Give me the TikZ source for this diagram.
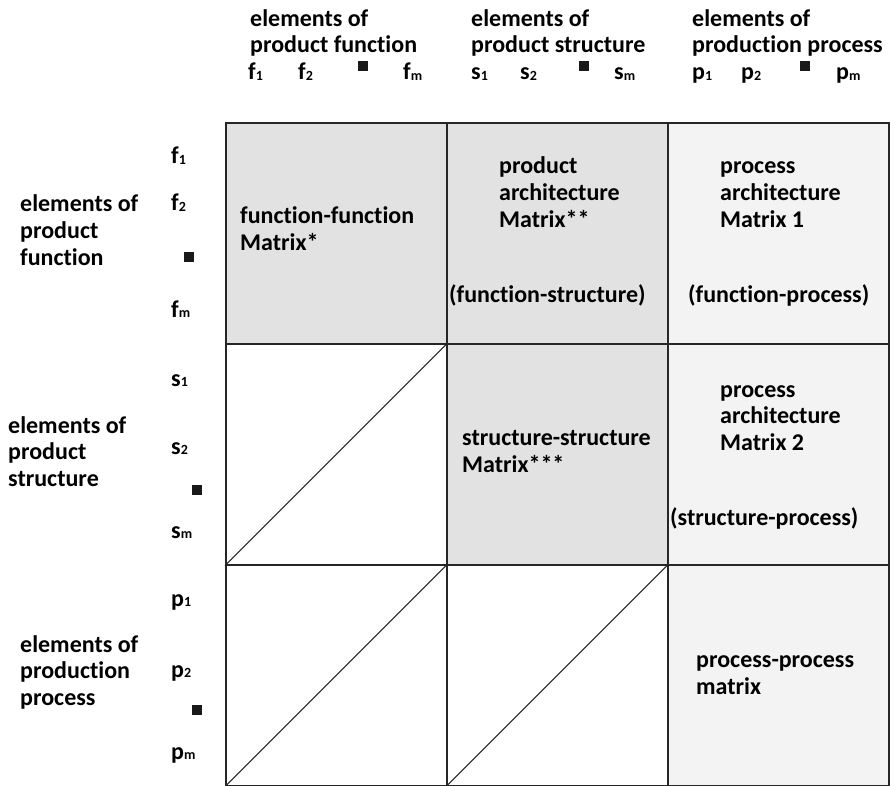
\documentclass[tikz,border=0pt]{standalone}
\usepackage{fontspec}
\setmainfont{Carlito}[Ligatures=NoCommon]
\definecolor{cellgray}{HTML}{E2E2E2}
\definecolor{celllight}{HTML}{F3F3F3}
\newcommand\idx[2]{#1\raisebox{-0.5pt}{\fontsize{14}{14}\selectfont #2}}
\begin{document}
\begin{tikzpicture}[x=1pt,y=-1pt,
  every node/.style={font=\fontsize{24}{26.5}\selectfont\bfseries, inner sep=0pt},
  cell/.style={draw=black!85, line width=1.6pt, minimum size=221pt, anchor=north west},
  txt/.style={anchor=base west, align=left},
  dot/.style={fill=black!90, minimum size=9.5pt, anchor=center},
  diag/.style={line width=1pt, black!85}]
\useasboundingbox (0,0) rectangle (893,786);
% matrix cells
\node[cell, fill=cellgray]  (c11) at (225,122) {};
\node[cell, fill=cellgray]  (c12) at (446,122) {};
\node[cell, fill=celllight] (c13) at (667,122) {};
\node[cell, fill=white]     (c21) at (225,343) {};
\node[cell, fill=cellgray]  (c22) at (446,343) {};
\node[cell, fill=celllight] (c23) at (667,343) {};
\node[cell, fill=white]     (c31) at (225,564) {};
\node[cell, fill=white]     (c32) at (446,564) {};
\node[cell, fill=celllight] (c33) at (667,564) {};
% unused lower triangle
\draw[diag] (c21.south west) -- (c21.north east);
\draw[diag] (c31.south west) -- (c31.north east);
\draw[diag] (c32.south west) -- (c32.north east);
% column headings (anchored at the baseline of the last line)
\node[txt] (h1) at (250,53) {elements of\\product function};
\node[txt] (h2) at (471,53) {elements of\\product structure};
\node[txt] (h3) at (692,53) {elements of\\production process};
% column element labels
\node[txt] (cf1) at (248,80) {\idx{f}{1}};
\node[txt] (cf2) at (298,80) {\idx{f}{2}};
\node[dot] (cfd) at (363,66) {};
\node[txt] (cfm) at (403,80) {\idx{f}{m}};
\node[txt] (cs1) at (471,80) {\idx{s}{1}};
\node[txt] (cs2) at (520,80) {\idx{s}{2}};
\node[dot] (csd) at (584,66) {};
\node[txt] (csm) at (614,80) {\idx{s}{m}};
\node[txt] (cp1) at (692,80) {\idx{p}{1}};
\node[txt] (cp2) at (741,80) {\idx{p}{2}};
\node[dot] (cpd) at (805,66) {};
\node[txt] (cpm) at (836,80) {\idx{p}{m}};
% row headings
\node[txt] (r1) at (20,265) {elements of\\product\\function};
\node[txt] (r2) at (8,486) {elements of\\product\\structure};
\node[txt] (r3) at (20,705) {elements of\\production\\process};
% row element labels
\node[txt] (rf1) at (171,164) {\idx{f}{1}};
\node[txt] (rf2) at (171,211) {\idx{f}{2}};
\node[dot] (rfd) at (189,257) {};
\node[txt] (rfm) at (171,317) {\idx{f}{m}};
\node[txt] (rs1) at (171,386) {\idx{s}{1}};
\node[txt] (rs2) at (171,454) {\idx{s}{2}};
\node[dot] (rsd) at (197,490) {};
\node[txt] (rsm) at (171,538) {\idx{s}{m}};
\node[txt] (rp1) at (171,606) {\idx{p}{1}};
\node[txt] (rp2) at (171,677) {\idx{p}{2}};
\node[dot] (rpd) at (197,710) {};
\node[txt] (rpm) at (171,759) {\idx{p}{m}};
% cell contents
\node[txt] (t11) at (240,250) {function-function\\Matrix*};
\node[txt] (t12) at (499,227) {product\\architecture\\Matrix**};
\node[txt] (t12b) at (449,302) {(function-structure)};
\node[txt] (t13) at (720,227) {process\\architecture\\Matrix 1};
\node[txt] (t13b) at (688,302) {(function-process)};
\node[txt] (t22) at (462,472) {structure-structure\\Matrix***};
\node[txt] (t23) at (720,450) {process\\architecture\\Matrix 2};
\node[txt] (t23b) at (670,525) {(structure-process)};
\node[txt] (t33) at (696,694) {process-process\\matrix};
\end{tikzpicture}
\end{document}
